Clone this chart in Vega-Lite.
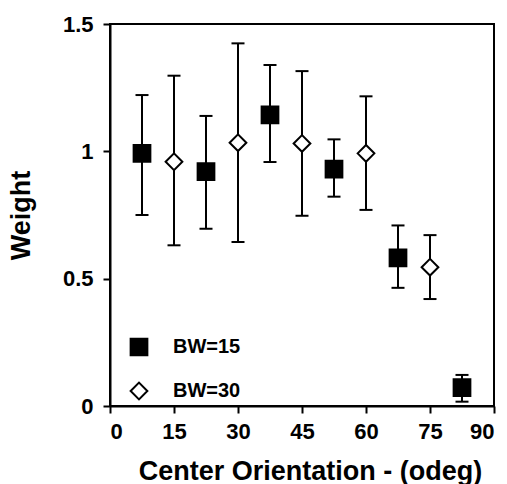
{
  "$schema": "https://vega.github.io/schema/vega-lite/v6.json",
  "width": 384,
  "height": 382,
  "autosize": "none",
  "padding": {"left": 110, "top": 24, "right": 13, "bottom": 78},
  "background": "white",
  "config": {
    "font": "Liberation Sans",
    "view": {"stroke": "black", "strokeWidth": 2},
    "axis": {
      "domainColor": "black", "domainWidth": 2, "tickColor": "black", "tickWidth": 2, "tickSize": 7,
      "labelColor": "black", "labelFont": "Liberation Sans", "labelFontSize": 22, "labelFontWeight": "bold",
      "titleColor": "black", "titleFont": "Liberation Sans", "titleFontSize": 27, "titleFontWeight": "bold",
      "grid": false
    },
    "legend": {
      "orient": "none", "legendX": 19, "legendY": 313,
      "labelFont": "Liberation Sans", "labelFontSize": 20, "labelFontWeight": "bold", "labelColor": "black",
      "symbolSize": 280, "symbolStrokeWidth": 2,
      "labelOffset": 24, "rowPadding": 18
    }
  },
  "data": {"values": [
    {"x": 7.5, "y": 0.992, "lo": 0.750, "hi": 1.221, "series": "BW=15"},
    {"x": 15, "y": 0.959, "lo": 0.631, "hi": 1.297, "series": "BW=30"},
    {"x": 22.5, "y": 0.920, "lo": 0.696, "hi": 1.139, "series": "BW=15"},
    {"x": 30, "y": 1.034, "lo": 0.644, "hi": 1.424, "series": "BW=30"},
    {"x": 37.5, "y": 1.143, "lo": 0.958, "hi": 1.339, "series": "BW=15"},
    {"x": 45, "y": 1.031, "lo": 0.747, "hi": 1.315, "series": "BW=30"},
    {"x": 52.5, "y": 0.930, "lo": 0.822, "hi": 1.047, "series": "BW=15"},
    {"x": 60, "y": 0.992, "lo": 0.770, "hi": 1.216, "series": "BW=30"},
    {"x": 67.5, "y": 0.582, "lo": 0.464, "hi": 0.709, "series": "BW=15"},
    {"x": 75, "y": 0.545, "lo": 0.420, "hi": 0.671, "series": "BW=30"},
    {"x": 82.5, "y": 0.072, "lo": 0.017, "hi": 0.122, "series": "BW=15"}
  ]},
  "encoding": {
    "x": {"field": "x", "type": "quantitative",
      "scale": {"domain": [0, 90], "nice": false, "zero": false},
      "axis": {"values": [0, 15, 30, 45, 60, 75, 90], "title": "Center Orientation - (odeg)", "labelPadding": 8, "titlePadding": 16, "titleX": 200}}
  },
  "layer": [
    {
      "mark": {"type": "rule", "color": "black", "strokeWidth": 2},
      "encoding": {
        "y": {"field": "lo", "type": "quantitative",
          "scale": {"domain": [0, 1.5], "nice": false},
          "axis": {"values": [0, 0.5, 1, 1.5], "format": ".1~f", "title": "Weight", "labelPadding": 10, "titlePadding": 27}},
        "y2": {"field": "hi"}
      }
    },
    {
      "mark": {"type": "tick", "orient": "horizontal", "color": "black", "size": 13, "thickness": 2, "opacity": 1},
      "encoding": {"y": {"field": "hi", "type": "quantitative"}}
    },
    {
      "mark": {"type": "tick", "orient": "horizontal", "color": "black", "size": 13, "thickness": 2, "opacity": 1},
      "encoding": {"y": {"field": "lo", "type": "quantitative"}}
    },
    {
      "mark": {"type": "point", "filled": true, "strokeWidth": 2, "size": 280, "opacity": 1},
      "encoding": {
        "y": {"field": "y", "type": "quantitative"},
        "shape": {"field": "series", "type": "nominal", "scale": {"domain": ["BW=15", "BW=30"], "range": ["square", "diamond"]}, "legend": {"title": null}},
        "fill": {"field": "series", "type": "nominal", "scale": {"domain": ["BW=15", "BW=30"], "range": ["black", "white"]}, "legend": {"title": null}},
        "stroke": {"field": "series", "type": "nominal", "scale": {"domain": ["BW=15", "BW=30"], "range": ["black", "black"]}, "legend": {"title": null}}
      }
    }
  ]
}
